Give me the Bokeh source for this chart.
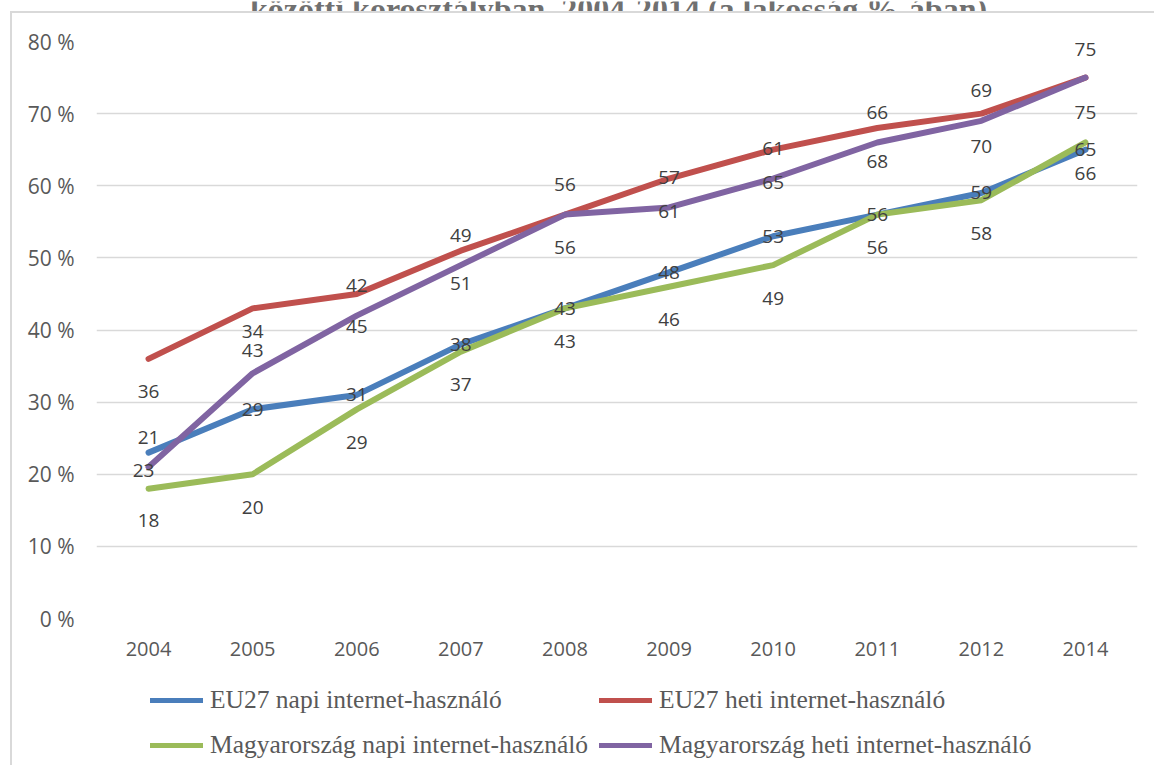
from bokeh.plotting import figure
from bokeh.models import (FactorRange, FixedTicker, Legend, LegendItem,
                          ColumnDataSource, Spacer)
from bokeh.layouts import column, row
from bokeh.core.properties import value
from bokeh.embed import file_html
from bokeh.resources import INLINE

# ---- data ----
years = ["2004", "2005", "2006", "2007", "2008", "2009", "2010", "2011", "2012", "2014"]
eu_napi = [23, 29, 31, 38, 43, 48, 53, 56, 59, 65]
eu_heti = [36, 43, 45, 51, 56, 61, 65, 68, 70, 75]
hu_napi = [18, 20, 29, 37, 43, 46, 49, 56, 58, 66]
hu_heti = [21, 34, 42, 49, 56, 57, 61, 66, 69, 75]
series_names = ["EU27 napi internet-használó", "EU27 heti internet-használó",
                "Magyarország napi internet-használó", "Magyarország heti internet-használó"]
y_ticks = [0, 10, 20, 30, 40, 50, 60, 70, 80]
title_text = "közötti korosztályban, 2004-2014 (a lakosság %-ában)"

# ---- styles (label placement in pixels) ----
colors = ["#4A7EBB", "#C0504D", "#9BBB59", "#8064A2"]
lab_dy = [
    [18, 0, 0, 0, 0, 0, 0, 0, 0, 0],
    [33, 42, 33, 33, 33, 33, 33, 33, 33, 35],
    [32, 33, 33, 33, 33, 33, 33, 33, 33, 31],
    [-30, -42, -30, -30, -30, -30, -30, -30, -30, -28],
]
lab_dx = [
    [-5, 0, 0, 0, 0, 0, 0, 0, 0, 0],
    [0] * 10, [0] * 10, [0] * 10,
]
BORDER = "#D9D9D9"
PAGE_W = 1154
TITLE_H = 11


def bare(fig):
    fig.grid.visible = False
    fig.outline_line_color = None
    return fig


# ---- title strip (cut off at the top, as in the source) ----
tf = bare(figure(width=PAGE_W, height=TITLE_H, x_range=(0, PAGE_W), y_range=(0, TITLE_H),
                 output_backend="svg", toolbar_location=None, min_border=0,
                 x_axis_location=None, y_axis_location=None))
tf.text(x=[618], y=[TITLE_H - 7], text=[title_text], text_align="center",
        text_baseline="alphabetic", text_font=value("Liberation Serif"),
        text_font_style="bold", text_font_size="32px", text_color="#707070")

# ---- main chart ----
W, H = PAGE_W - 12, 660
p = figure(width=W, height=H, x_range=FactorRange(*years, range_padding=0),
           y_range=(0, 80), output_backend="svg", toolbar_location=None,
           min_border_left=84, min_border_right=17, min_border_top=28,
           min_border_bottom=55)
p.outline_line_color = None
p.xgrid.grid_line_color = None
p.ygrid.grid_line_color = BORDER
p.ygrid.grid_line_width = 1.5
p.yaxis.ticker = FixedTicker(ticks=y_ticks)
p.yaxis.major_label_overrides = {t: f"{t} %" for t in y_ticks}

for ax in (p.xaxis[0], p.yaxis[0]):
    ax.axis_line_color = None
    ax.major_tick_line_color = None
    ax.minor_tick_line_color = None
    ax.major_tick_out = 0
    ax.major_tick_in = 0
    ax.major_label_text_font = "Open Sans"
    ax.major_label_text_color = "#595959"
p.yaxis.major_label_text_font_size = "21px"
p.xaxis.major_label_text_font_size = "20px"
p.yaxis.major_label_standoff = 22
p.xaxis.major_label_standoff = 23

data = [eu_napi, eu_heti, hu_napi, hu_heti]
for i, vals in enumerate(data):
    p.line(years, vals, line_color=colors[i], line_width=6,
           line_join="round", line_cap="round")

for i, vals in enumerate(data):
    src = ColumnDataSource(dict(x=years, y=vals, t=[str(v) for v in vals],
                                dy=lab_dy[i], dx=lab_dx[i]))
    p.text(x="x", y="y", text="t", source=src, x_offset="dx", y_offset="dy",
           text_align="center", text_baseline="middle",
           text_font=value("Open Sans"), text_font_size="19px",
           text_color="#404040")

# ---- legend strip (same series, drawn out of view; only their swatches show) ----
LEG_H = 92
lf = bare(figure(width=W, height=LEG_H, x_range=FactorRange(*years, range_padding=0),
                 y_range=(-2, -1), output_backend="svg", toolbar_location=None,
                 min_border=0, x_axis_location=None, y_axis_location=None))
swatches = [lf.line(years, data[i], line_color=colors[i], line_width=5, line_cap="round")
            for i in range(4)]
order = [0, 2, 1, 3]   # column-first fill -> rows: (EU napi, EU heti), (HU napi, HU heti)
legend = Legend(items=[LegendItem(label=series_names[i], renderers=[swatches[i]])
                       for i in order],
                ncols=2, location=(54, 3), orientation="vertical")
legend.padding = 0
legend.margin = 0
legend.spacing = 11
legend.border_line_color = None
legend.background_fill_alpha = 0
legend.glyph_width = 53
legend.glyph_height = 34
legend.label_height = 34
legend.label_standoff = 7
legend.label_text_font = "Liberation Serif"
legend.label_text_font_size = "25.5px"
legend.label_text_color = "#595959"
lf.add_layout(legend, "center")

hline = Spacer(width=PAGE_W - 10, height=2, styles={"background-color": BORDER})
vline = Spacer(width=2, height=H + LEG_H, styles={"background-color": BORDER})
layout = column(
    tf,
    row(Spacer(width=10, height=2), hline, spacing=0),
    row(Spacer(width=10, height=H + LEG_H), vline, column(p, lf, spacing=0), spacing=0),
    spacing=0,
)

open("out.html", "w").write(file_html(layout, INLINE))
